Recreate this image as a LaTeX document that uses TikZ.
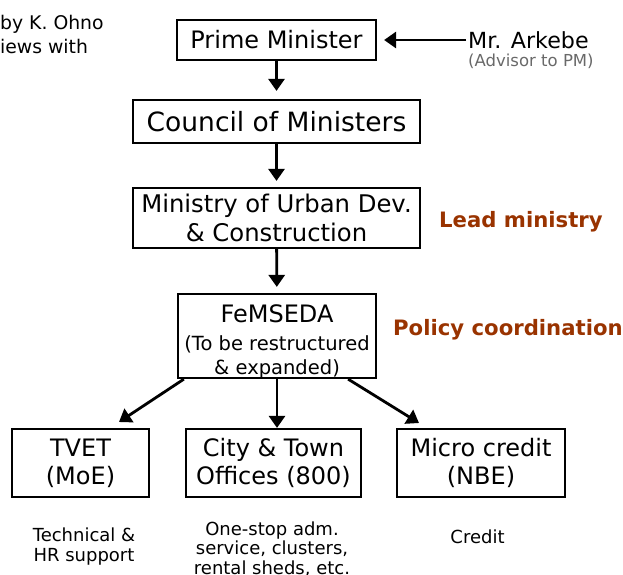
\documentclass[tikz,border=0pt]{standalone}
\usepackage{fontspec}
\setmainfont{DejaVu Sans}
\usetikzlibrary{arrows.meta}
\definecolor{leadbrown}{RGB}{153,51,0}
\definecolor{notegray}{RGB}{105,105,105}
\begin{document}
\begin{tikzpicture}[x=1pt,y=-1pt,
  box/.style={draw=black,line width=2.2pt,align=center,inner sep=0pt,fill=white},
  link/.style={line width=2.8pt,-{Triangle[width=16pt,length=12pt]}},
  note/.style={align=center,inner sep=0pt,font=\fontsize{18}{19.5}\selectfont},
  tag/.style={anchor=west,inner sep=0pt,text=leadbrown,font=\bfseries\fontsize{21.2}{25}\selectfont}]
\useasboundingbox (0,0) rectangle (623,574);

% corner credit (partly outside the page)
\node[anchor=west,inner sep=0pt,font=\fontsize{18.8}{24}\selectfont,align=left] (credit) at (0,34) {by K. Ohno\\iews with};

% main chain
\node[box,minimum width=199pt,minimum height=40pt,font=\fontsize{24}{28}\selectfont] (pm) at (276.5,40) {Prime Minister};
\node[box,minimum width=287pt,minimum height=43pt,font=\fontsize{26.5}{30}\selectfont] (council) at (276.5,121.5) {Council of Ministers};
\node[box,minimum width=287pt,minimum height=60pt,font=\fontsize{24.3}{29}\selectfont] (mudc) at (276.5,218) {Ministry of Urban Dev.\\\& Construction};
\node[box,minimum width=198pt,minimum height=84pt] (femseda) at (277,336) {};
\node[align=center,inner sep=0pt,font=\fontsize{19.5}{24}\selectfont] (femsedatext) at (277,342)
  {{\fontsize{24}{28}\selectfont FeMSEDA}\\[4pt](To be restructured\\\& expanded)};

% advisor
\node[anchor=west,inner sep=0pt,font=\fontsize{22.2}{26}\selectfont] (arkebe) at (468,40) {Mr. Arkebe};
\node[anchor=west,inner sep=0pt,text=notegray,font=\fontsize{16.5}{20}\selectfont] (advisor) at (468,61) {(Advisor to PM)};

% role labels
\node[tag] (lead) at (439,222) {Lead ministry};
\node[tag] (policy) at (393,330) {Policy coordination};

% implementing bodies
\node[box,minimum width=137pt,minimum height=68pt,font=\fontsize{24}{28}\selectfont] (tvet) at (80.5,463) {TVET\\(MoE)};
\node[box,minimum width=175pt,minimum height=68pt,font=\fontsize{24}{28}\selectfont] (city) at (273.5,463) {City \& Town\\Offices (800)};
\node[box,minimum width=168pt,minimum height=68pt,font=\fontsize{24}{28}\selectfont] (micro) at (481,463) {Micro credit\\(NBE)};

% support descriptions
\node[note] (tvetnote) at (84,546.5) {Technical \&\\HR support};
\node[note] (citynote) at (272,549) {One-stop adm.\\service, clusters,\\rental sheds, etc.};
\node[note] (micronote) at (477.5,537) {Credit};

% connectors
\draw[link,shorten >=8pt] (pm) -- (council);
\draw[link,shorten >=6pt] (council) -- (mudc);
\draw[link,shorten >=6pt] (mudc) -- (femseda);
\draw[link,shorten <=2pt,shorten >=7pt] (arkebe.west) -- (pm.east);
\draw[link] (femseda.south) -- (femseda.south |- city.north);
\draw[link] ([xshift=7pt]femseda.south west) -- (119,422);
\draw[link] ([xshift=-29pt]femseda.south east) -- (419,423);
\end{tikzpicture}
\end{document}
